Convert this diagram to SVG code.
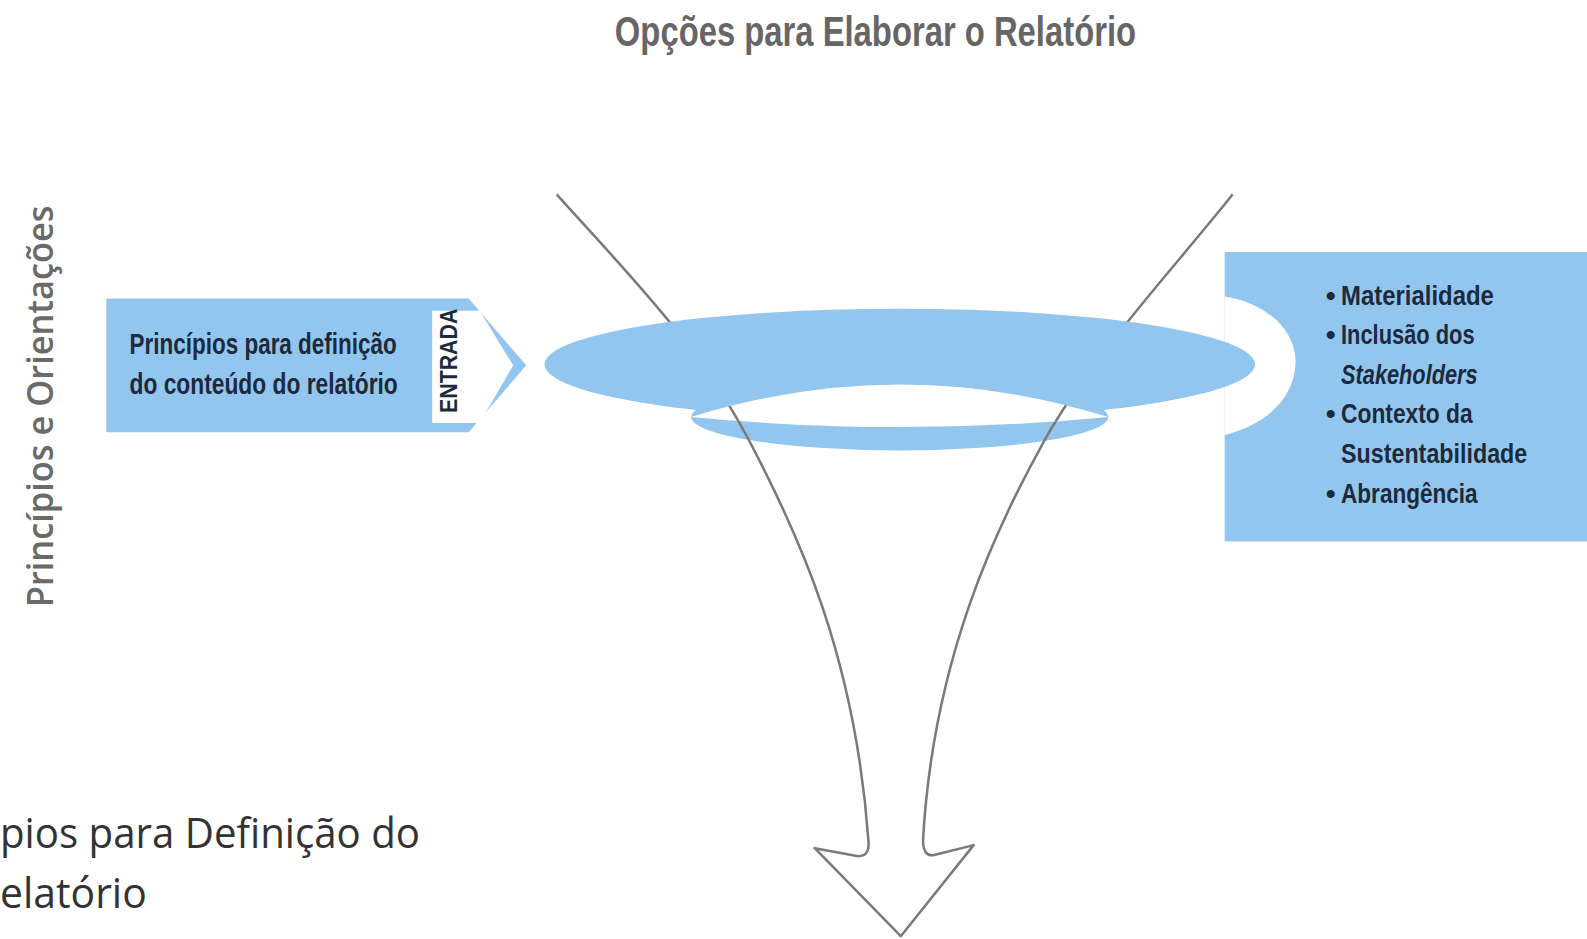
<svg xmlns="http://www.w3.org/2000/svg" width="1587" height="939" viewBox="0 0 1587 939">
<style>
.blue{fill:#93c6ee}
.white{fill:#ffffff}
.cond{font-family:"Liberation Sans Narrow","Liberation Sans",Arial,sans-serif;font-weight:bold;fill:#1c2a3c}
.gray{font-family:"Open Sans","Noto Sans","Liberation Sans",sans-serif;fill:#6a6a6a}
.line{fill:none;stroke:#7a7a7a;stroke-width:2.5;stroke-linejoin:round}
</style>
<defs>
<clipPath id="holeClip"><path d="M683,412 Q889,348 1095,412 Q889,432 683,412 Z"/></clipPath>
<path id="funnelPath" d="M550,192 C620,270 690,340 740,435 C790,530 845,650 858,830 Q860,846 848,846 L805,838 L890,925 L962,835 L922,845 Q912,846 912,830 C922,650 985,520 1032,435 C1080,350 1160,265 1218,192"/>
</defs>
<rect width="1587" height="939" fill="#ffffff"/>
<g transform="scale(1.0121)">
<g id="title">
<text x="865" y="45" text-anchor="middle" font-family="Liberation Sans Narrow, Liberation Sans, sans-serif" font-weight="bold" font-size="42" fill="#666666" textLength="515" lengthAdjust="spacingAndGlyphs">Opções para Elaborar o Relatório</text>
</g>

<g id="side-label">
<text class="gray" transform="translate(52,600) rotate(-90)" x="0" y="0" font-size="36" font-weight="600" textLength="397" lengthAdjust="spacingAndGlyphs">Princípios e Orientações</text>
</g>

<g id="bottom-label">
<text class="gray" x="0" y="838" font-size="42" style="fill:#333333" textLength="415" lengthAdjust="spacingAndGlyphs">pios para Definição do</text>
<text class="gray" x="0" y="897" font-size="42" style="fill:#333333" textLength="145" lengthAdjust="spacingAndGlyphs">elatório</text>
</g>

<g id="input-box">
<path class="blue" d="M105,295 L463,295 L520,361 L463,427 L105,427 Z"/>
<path class="white" d="M427,307 L474,307 L507,361 L474,418 L427,418 Z"/>
<text class="cond" x="128" y="350" font-size="29" textLength="264" lengthAdjust="spacingAndGlyphs">Princípios para definição</text>
<text class="cond" x="128" y="389" font-size="29" textLength="265" lengthAdjust="spacingAndGlyphs">do conteúdo do relatório</text>
<text class="cond" transform="translate(452,408) rotate(-90)" x="0" y="0" font-size="23" textLength="103" lengthAdjust="spacingAndGlyphs">ENTRADA</text>
</g>

<g id="principles-box">
<rect class="blue" x="1210" y="249" width="377" height="286"/>
<path class="white" d="M1210,293 C1255,300 1282,330 1280,360 C1278,392 1255,418 1210,430 Z"/>
<text class="cond" x="1310" y="301" font-size="28">•</text>
<text class="cond" x="1325" y="301" font-size="28" textLength="151" lengthAdjust="spacingAndGlyphs">Materialidade</text>
<text class="cond" x="1310" y="340" font-size="28">•</text>
<text class="cond" x="1325" y="340" font-size="28" textLength="132" lengthAdjust="spacingAndGlyphs">Inclusão dos</text>
<text class="cond" x="1325" y="379" font-size="28" font-style="italic" textLength="135" lengthAdjust="spacingAndGlyphs">Stakeholders</text>
<text class="cond" x="1310" y="418" font-size="28">•</text>
<text class="cond" x="1325" y="418" font-size="28" textLength="130" lengthAdjust="spacingAndGlyphs">Contexto da</text>
<text class="cond" x="1325" y="457" font-size="28" textLength="184" lengthAdjust="spacingAndGlyphs">Sustentabilidade</text>
<text class="cond" x="1310" y="497" font-size="28">•</text>
<text class="cond" x="1325" y="497" font-size="28" textLength="135" lengthAdjust="spacingAndGlyphs">Abrangência</text>
</g>

<g id="funnel">
<ellipse class="blue" cx="889" cy="412" rx="206" ry="33"/>
<use href="#funnelPath" class="line"/>
<ellipse class="blue" cx="889" cy="360" rx="351" ry="55"/>
<path class="white" d="M683,412 Q889,348 1095,412 Q889,432 683,412 Z"/>
<use href="#funnelPath" class="line" clip-path="url(#holeClip)"/>
</g>
</g>
</svg>
